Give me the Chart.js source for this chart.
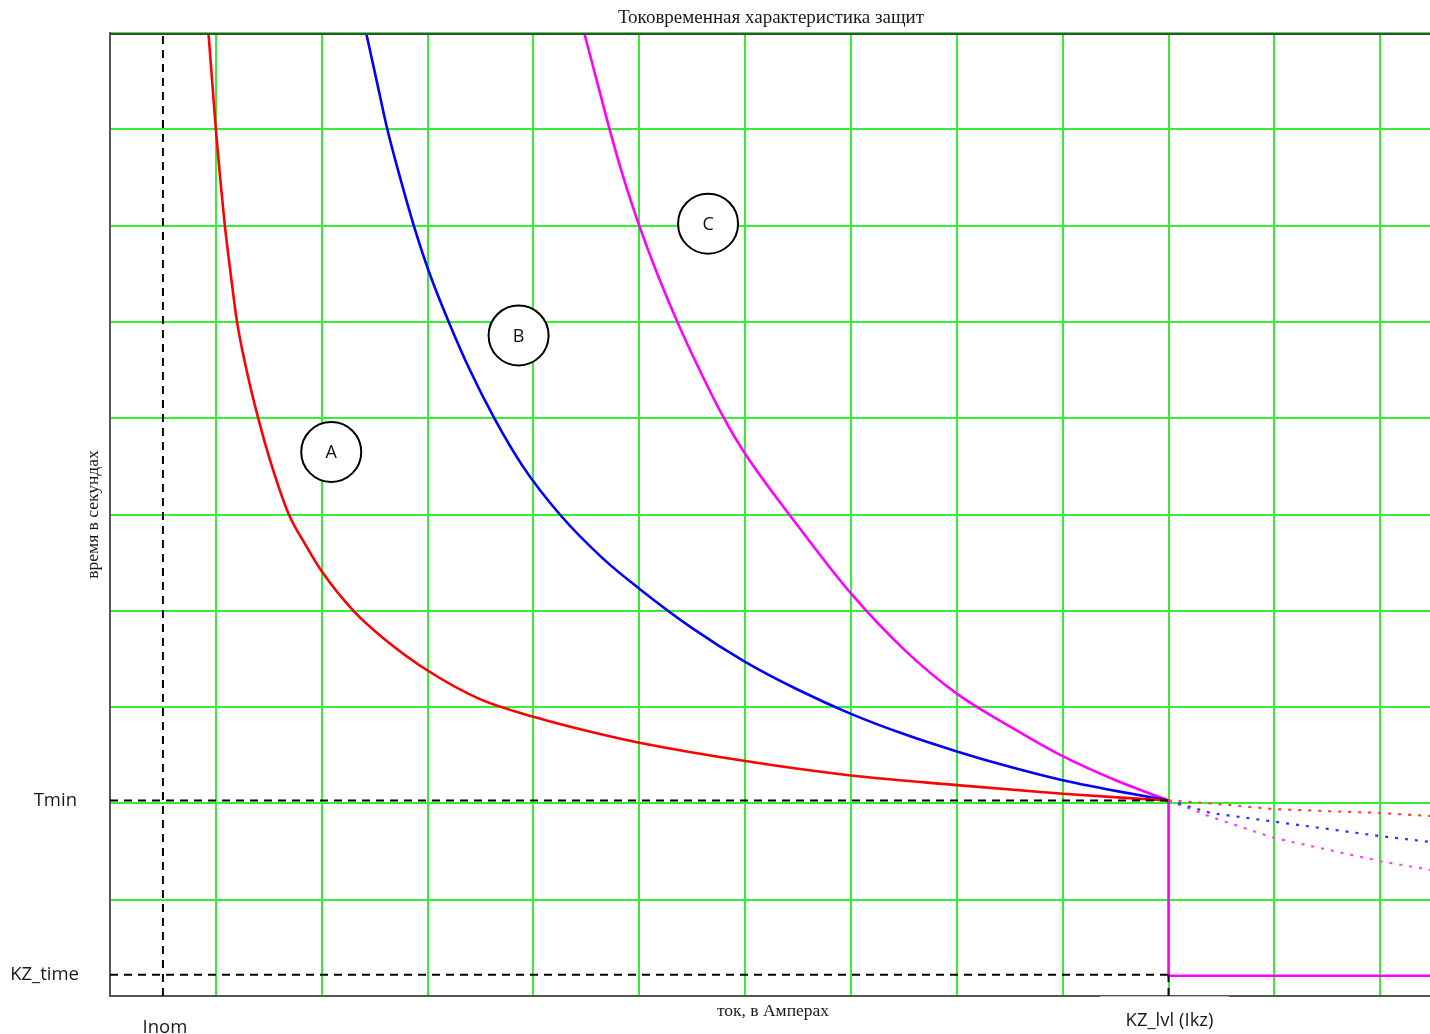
<!DOCTYPE html>
<html>
<head>
<meta charset="utf-8">
<script src="https://cdn.jsdelivr.net/npm/chart.js@4.4.0/dist/chart.umd.min.js"></script>
<style>
  html, body { margin: 0; padding: 0; background: #fff; }
  canvas { display: block; }
</style>
</head>
<body>
<canvas id="grafico-zashchity" width="1430" height="1034"></canvas>
<script>
// opornye znacheniya (v kletkah setki)
const INOM = 0.5
const KZ_LVL = 10
const TMIN = 2.03
const KZ_TIME = 0.22
const X_MAX = 12.47
const Y_MAX = 10

// krivaya A (krasnaya)
const tokA = [0.93, 0.965, 1.0, 1.04, 1.085, 1.14, 1.2, 1.29, 1.4, 1.53, 1.69, 1.85, 2.0, 2.3, 2.6, 3.0, 3.5, 4.0, 4.63, 5, 6, 7, 8, 9, 10]
const vremyaA = [10, 9.5, 9, 8.5, 8, 7.5, 7, 6.5, 6, 5.5, 5, 4.68, 4.41, 4.0, 3.7, 3.38, 3.08, 2.9, 2.72, 2.63, 2.44, 2.29, 2.19, 2.10, 2.03]

// krivaya B (sinyaya)
const tokB = [2.42, 2.52, 2.62, 2.74, 2.87, 3.02, 3.2, 3.4, 3.63, 3.9, 4.25, 4.65, 5.0, 5.5, 6, 6.5, 7, 7.5, 8, 8.5, 9, 9.5, 10]
const vremyaB = [10, 9.5, 9, 8.5, 8, 7.5, 7, 6.5, 6, 5.5, 5, 4.55, 4.23, 3.82, 3.47, 3.18, 2.93, 2.72, 2.54, 2.38, 2.24, 2.13, 2.03]

// krivaya C (rozovaya)
const tokC = [4.48, 4.6, 4.72, 4.85, 5.0, 5.17, 5.36, 5.57, 5.8, 6.0, 6.5, 7.0, 7.5, 8, 8.5, 9, 9.5, 10]
const vremyaC = [10, 9.5, 9, 8.5, 8, 7.5, 7, 6.5, 6, 5.63, 4.88, 4.18, 3.6, 3.14, 2.8, 2.49, 2.24, 2.03]

// otsechka (stupenka)
const tokStupen = [10, 10, 12.47]
const vremyaStupen = [2.03, 0.21, 0.21]

// prodolzheniya punktirom
const tokHvost = [10, 10.4, 11, 12, 12.47]
const vremyaHvostA = [2.03, 2.0, 1.94, 1.90, 1.87]
const vremyaHvostB = [2.03, 1.90, 1.81, 1.66, 1.60]
const vremyaHvostC = [2.03, 1.86, 1.64, 1.40, 1.31]

// metki krivyh
const metki = ['A', 'B', 'C']
const tokMetok = [2.09, 3.86, 5.65]
const vremyaMetok = [5.65, 6.86, 8.02]

const titulo = 'Токовременная характеристика защит'
const tituloX = 'ток, в Амперах'
const tituloY = 'время в секундах'

function pontos(xs, ys) {
  return xs.map((x, i) => ({ x: x, y: ys[i] }))
}

const verde = '#35ee35'

const textos = {
  id: 'textos',
  afterDatasetsDraw(chart) {
    const ctx = chart.ctx
    const meta = chart.getDatasetMeta(chart.data.datasets.length - 1)
    ctx.save()
    ctx.fillStyle = '#111'
    ctx.font = '18px "Open Sans"'
    ctx.textAlign = 'center'
    ctx.textBaseline = 'middle'
    meta.data.forEach((p, i) => ctx.fillText(metki[i], p.x, p.y + 1))
    ctx.restore()
  },
  afterDraw(chart) {
    const { ctx, chartArea: a, scales: { x, y } } = chart
    ctx.save()
    // verhnyaya ramka
    ctx.strokeStyle = '#444'
    ctx.lineWidth = 2
    ctx.beginPath()
    ctx.moveTo(a.left, a.top + 1)
    ctx.lineTo(a.right, a.top + 1)
    ctx.stroke()

    ctx.fillStyle = '#1a1a1a'
    ctx.textAlign = 'center'
    ctx.textBaseline = 'middle'
    ctx.font = '19px "Liberation Serif"'
    ctx.fillText(titulo, (a.left + a.right) / 2 + 1, a.top - 15)
    ctx.font = '17.5px "Liberation Serif"'
    ctx.fillText(tituloX, (a.left + a.right) / 2 + 3, a.bottom + 15)
    ctx.save()
    ctx.translate(a.left - 17, (a.top + a.bottom) / 2)
    ctx.rotate(-Math.PI / 2)
    ctx.fillText(tituloY, 0, 0)
    ctx.restore()

    ctx.font = '18.5px "Open Sans"'
    ctx.textAlign = 'right'
    ctx.fillText('Tmin', a.left - 33, y.getPixelForValue(TMIN))
    ctx.fillText('KZ_time', a.left - 31, y.getPixelForValue(KZ_TIME))

    // podpis KZ_lvl na belom fone
    const xk = x.getPixelForValue(KZ_LVL)
    ctx.fillStyle = '#fff'
    ctx.fillRect(xk - 68, a.bottom, 128, 40)
    ctx.strokeStyle = '#bbb'
    ctx.lineWidth = 1
    ctx.beginPath()
    ctx.moveTo(xk - 68, a.bottom + 0.5)
    ctx.lineTo(xk + 60, a.bottom + 0.5)
    ctx.stroke()
    ctx.fillStyle = '#1a1a1a'
    ctx.textAlign = 'center'
    ctx.fillText('KZ_lvl (Ikz)', xk + 1, a.bottom + 25)
    ctx.fillText('Inom', x.getPixelForValue(INOM) + 2, a.bottom + 32)
    ctx.restore()
  }
}

const tracejado = { borderColor: '#000', borderWidth: 2, borderDash: [8, 6], pointRadius: 0, showLine: true, fill: false }
const pontilhado = { borderWidth: 2.2, borderDash: [3, 7], pointRadius: 0, showLine: true, fill: false }
const curva = { borderWidth: 2.6, pointRadius: 0, showLine: true, fill: false, cubicInterpolationMode: 'monotone' }

new Chart(document.querySelector('#grafico-zashchity').getContext('2d'), {
  type: 'scatter',
  data: {
    datasets: [
      { ...tracejado, data: pontos([0, KZ_LVL], [TMIN, TMIN]) },
      { ...tracejado, data: pontos([0, KZ_LVL], [KZ_TIME, KZ_TIME]) },
      { ...tracejado, data: pontos([INOM, INOM], [0, Y_MAX]) },
      { ...tracejado, data: pontos([KZ_LVL, KZ_LVL], [0, KZ_TIME]) },
      { ...pontilhado, borderColor: '#ff4040', data: pontos(tokHvost, vremyaHvostA) },
      { ...pontilhado, borderColor: '#3030ff', data: pontos(tokHvost, vremyaHvostB) },
      { ...pontilhado, borderColor: '#ff40ff', data: pontos(tokHvost, vremyaHvostC) },
      { ...curva, borderColor: '#ff0000', data: pontos(tokA, vremyaA) },
      { ...curva, borderColor: '#0000ff', data: pontos(tokB, vremyaB) },
      { ...curva, borderColor: '#ff00ff', data: pontos(tokC, vremyaC) },
      { borderColor: '#ff00ff', borderWidth: 2.6, pointRadius: 0, showLine: true, fill: false, data: pontos(tokStupen, vremyaStupen) },
      {
        data: pontos(tokMetok, vremyaMetok),
        showLine: false,
        pointRadius: 30,
        pointHoverRadius: 30,
        pointBackgroundColor: '#fff',
        pointBorderColor: '#000',
        pointBorderWidth: 2
      }
    ]
  },
  options: {
    responsive: false,
    animation: false,
    events: [],
    layout: { autoPadding: false, padding: { left: 110, top: 33, right: 0, bottom: 38 } },
    plugins: { legend: { display: false }, tooltip: { enabled: false }, title: { display: false } },
    scales: {
      x: {
        type: 'linear',
        min: 0,
        max: X_MAX,
        afterBuildTicks: escala => { escala.ticks = [0, 1, 2, 3, 4, 5, 6, 7, 8, 9, 10, 11, 12].map(v => ({ value: v })) },
        ticks: { display: false },
        grid: { color: verde, lineWidth: 2, drawTicks: false },
        border: { color: '#555', width: 2 }
      },
      y: {
        type: 'linear',
        min: 0,
        max: Y_MAX,
        afterBuildTicks: escala => { escala.ticks = [0, 1, 2, 3, 4, 5, 6, 7, 8, 9, 10].map(v => ({ value: v })) },
        ticks: { display: false },
        grid: { color: verde, lineWidth: 2, drawTicks: false },
        border: { color: '#555', width: 2 }
      }
    }
  },
  plugins: [textos]
})
</script>
</body>
